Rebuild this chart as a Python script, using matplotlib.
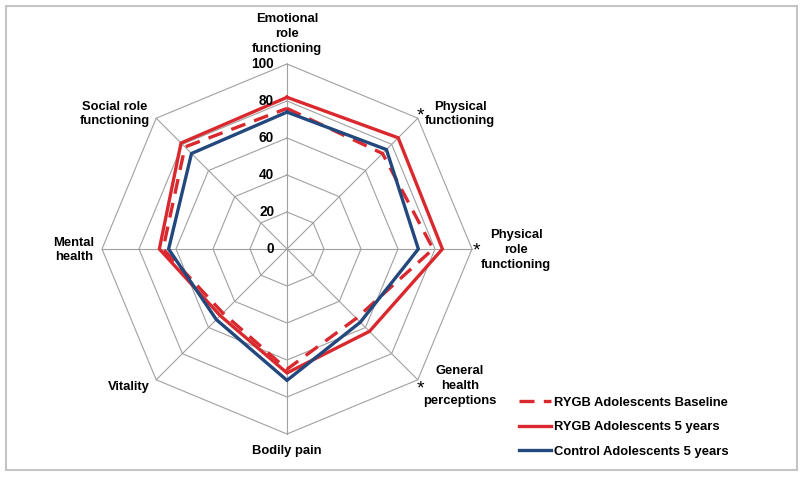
import matplotlib

matplotlib.use("Agg")
import matplotlib.pyplot as plt  # noqa: E402
import numpy as np  # noqa: E402
from matplotlib.patches import Rectangle  # noqa: E402

plt.rcParams["font.family"] = ["Liberation Sans", "DejaVu Sans"]

# SF-36 domains, clockwise from the top
categories = [
    "Emotional\nrole\nfunctioning",
    "Physical\nfunctioning",
    "Physical\nrole\nfunctioning",
    "General\nhealth\nperceptions",
    "Bodily pain",
    "Vitality",
    "Mental\nhealth",
    "Social role\nfunctioning",
]
significant = [False, True, True, True, False, False, False, False]
rygb_baseline = [76, 73, 79, 53, 65, 49, 67, 78]
rygb_5yr = [82, 85, 84, 63, 67, 51, 69, 81]
control_5yr = [74, 76, 71, 56, 71, 54, 64, 73]
ticks = [0, 20, 40, 60, 80, 100]

RED = "#d9292e"
BLUE = "#23487e"
GRID = "#a0a0a0"
FS = 9.4

# figure pixel geometry: centre (287, 249), radius 100 -> 185 px
W, H = 800, 478
CX, CY, RPX = 287, 249, 185
s = RPX / 100.0

fig = plt.figure(figsize=(W / 100, H / 100), dpi=100)
ax = fig.add_axes([0, 0, 1, 1])
ax.set_xlim(-CX / s, (W - CX) / s)
ax.set_ylim(-(H - CY) / s, CY / s)
ax.axis("off")

n = len(categories)
theta = np.arange(n) * 2 * np.pi / n


def xy(r, th):
    return np.asarray(r) * np.sin(th), np.asarray(r) * np.cos(th)


# octagon grid + spokes
for t in ticks[1:]:
    gx, gy = xy(np.full(n + 1, t), np.append(theta, theta[0]))
    ax.plot(gx, gy, color=GRID, lw=0.8, zorder=1)
for th in theta:
    sx, sy = xy([0, ticks[-1]], th)
    ax.plot(sx, sy, color=GRID, lw=0.8, zorder=1)

for t in ticks:
    ax.text(-7, t, str(t), ha="right", va="center", fontsize=FS + 0.4,
            fontweight="bold", zorder=3)

series = [
    (rygb_baseline, "RYGB Adolescents Baseline", RED, (0, (4.5, 2.8))),
    (rygb_5yr, "RYGB Adolescents 5 years", RED, "-"),
    (control_5yr, "Control Adolescents 5 years", BLUE, "-"),
]
for vals, lab, col, ls in series:
    px, py = xy(np.append(vals, vals[0]), np.append(theta, theta[0]))
    ax.plot(px, py, color=col, lw=2.4, ls=ls, label=lab, zorder=2,
            solid_joinstyle="miter")

# category labels (pixel centres)
label_pos = [(287, 34), (460, 114), (516, 250), (460, 386),
             (287, 451), (129, 387), (74, 250), (115, 114)]
star_pos = [None, (420, 116), (476, 251), (420, 389),
            None, None, None, None]
for lab, (lx, ly), sig, sp in zip(categories, label_pos, significant, star_pos):
    ax.text((lx - CX) / s, (CY - ly) / s, lab, ha="center", va="center",
            fontsize=FS, fontweight="bold", linespacing=1.32)
    if sig:
        ax.text((sp[0] - CX) / s, (CY - sp[1]) / s, "*", ha="center",
                va="center", fontsize=14)

leg = ax.legend(loc="center left", bbox_to_anchor=(519 / W, 1 - 427 / H),
                frameon=False, fontsize=FS, handlelength=2.45,
                handletextpad=0.2, labelspacing=0.95, borderpad=0,
                borderaxespad=0)
for t in leg.get_texts():
    t.set_fontweight("bold")

fig.patches.append(Rectangle((6 / W, 8 / H), 791 / W, 464 / H,
                             transform=fig.transFigure, fill=False,
                             edgecolor="#c4c4c4", lw=1.5))

fig.savefig("out.png", dpi=100)
